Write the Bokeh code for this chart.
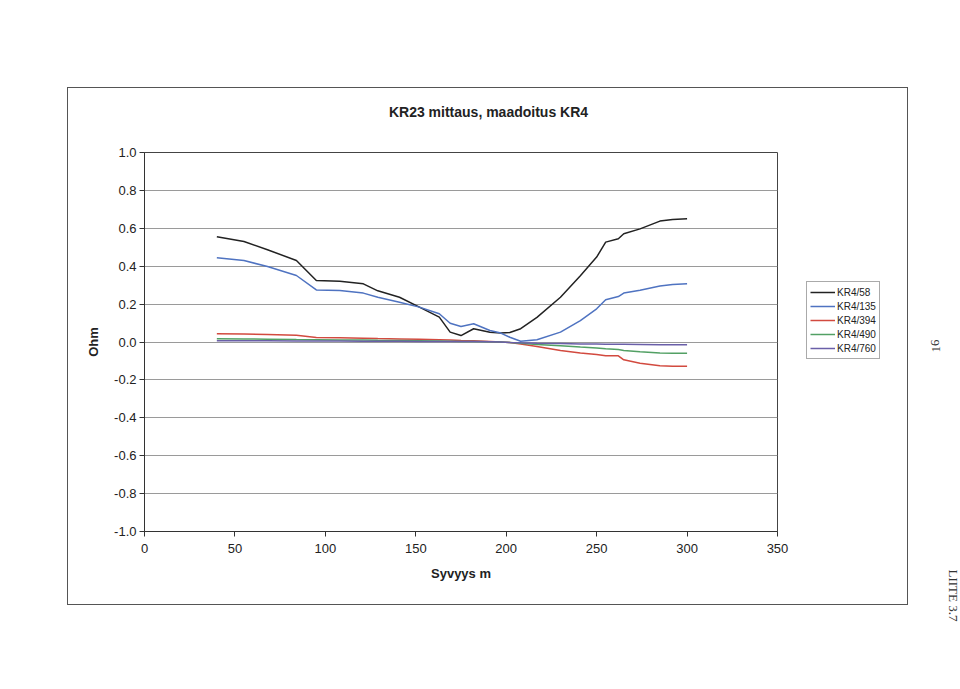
from bokeh.plotting import figure
from bokeh.layouts import row, column
from bokeh.models import (Legend, LegendItem, FixedTicker, Range1d, PrintfTickFormatter)
from bokeh.core.properties import value
from bokeh.embed import file_html
from bokeh.resources import INLINE

# ---- data ----
depth = [40, 55, 68, 84, 95, 108, 121, 129, 141, 152, 163, 169, 175, 182, 191,
         197, 202, 208, 217, 230, 241, 250, 255, 262, 265, 274, 285, 292, 300]

kr4_58 = [0.555, 0.53, 0.487, 0.43, 0.325, 0.32, 0.307, 0.27, 0.236, 0.184, 0.131,
          0.052, 0.034, 0.07, 0.052, 0.047, 0.05, 0.07, 0.13, 0.236, 0.35, 0.448,
          0.527, 0.545, 0.571, 0.597, 0.638, 0.646, 0.65]

kr4_135 = [0.444, 0.43, 0.398, 0.351, 0.275, 0.272, 0.258, 0.236, 0.21, 0.184, 0.149,
           0.099, 0.082, 0.096, 0.061, 0.047, 0.025, 0.004, 0.012, 0.052, 0.113,
           0.175, 0.223, 0.24, 0.258, 0.273, 0.295, 0.303, 0.307]

kr4_394 = [0.043, 0.042, 0.04, 0.035, 0.024, 0.022, 0.02, 0.018, 0.016, 0.014, 0.012,
           0.01, 0.008, 0.006, 0.003, 0.0, -0.003, -0.01, -0.024, -0.045, -0.058,
           -0.066, -0.073, -0.073, -0.094, -0.112, -0.125, -0.128, -0.128]

kr4_490 = [0.017, 0.016, 0.015, 0.013, 0.012, 0.011, 0.01, 0.009, 0.008, 0.007, 0.005,
           0.004, 0.003, 0.002, 0.001, 0.0, -0.002, -0.006, -0.013, -0.02, -0.027,
           -0.032, -0.036, -0.04, -0.045, -0.052, -0.058, -0.059, -0.059]

kr4_760 = [0.006, 0.006, 0.006, 0.005, 0.005, 0.005, 0.004, 0.004, 0.004, 0.003, 0.003,
           0.002, 0.002, 0.002, 0.001, 0.0, -0.002, -0.004, -0.006, -0.008, -0.01,
           -0.011, -0.012, -0.012, -0.012, -0.013, -0.015, -0.015, -0.015]

series_names = ["KR4/58", "KR4/135", "KR4/394", "KR4/490", "KR4/760"]
series_values = [kr4_58, kr4_135, kr4_394, kr4_490, kr4_760]
series_colors = ["#222222", "#4f73c1", "#d24a3f", "#52a064", "#6a5fa8"]

x_ticks = [0, 50, 100, 150, 200, 250, 300, 350]
y_ticks = [-1.0, -0.8, -0.6, -0.4, -0.2, 0, 0.2, 0.4, 0.6, 0.8, 1.0]

title_text = "KR23 mittaus, maadoitus KR4"
x_label = "Syvyys m"
y_label = "Ohm"
page_number = "16"
appendix_text = "LIITE   3.7"

FONT = "Liberation Sans"


def blank(fig):
    fig.axis.visible = False
    fig.grid.grid_line_color = None
    fig.outline_line_color = None
    fig.background_fill_color = "white"
    fig.border_fill_color = "white"


# ---------------- title strip (its frame is aligned with the chart frame) ----------------
tf = figure(width=729, height=56, output_backend="svg", toolbar_location=None,
            x_range=Range1d(0, 633), y_range=Range1d(0, 56), min_border=0)
blank(tf)
tf.text(x=[344], y=[33], text=[title_text], text_align="center",
        text_baseline="middle", text_font=value(FONT), text_font_size="14px",
        text_font_style="bold", text_color="#222222")

# ---------------- main chart ----------------
p = figure(width=729, height=460, output_backend="svg", toolbar_location=None,
           x_range=Range1d(0, 350), y_range=Range1d(-1, 1),
           min_border_left=76, min_border_right=20,
           min_border_top=8, min_border_bottom=73)
p.background_fill_color = "white"
p.border_fill_color = "white"
p.outline_line_color = "#444444"
p.outline_line_width = 1

p.xaxis.ticker = FixedTicker(ticks=x_ticks)
p.yaxis.ticker = FixedTicker(ticks=y_ticks)
p.yaxis.formatter = PrintfTickFormatter(format="%.1f")
for ax in (p.xaxis, p.yaxis):
    ax.axis_line_color = "#333333"
    ax.major_tick_line_color = "#333333"
    ax.minor_tick_line_color = None
    ax.major_tick_in = 0
    ax.major_tick_out = 5
    ax.major_label_text_font = FONT
    ax.major_label_text_font_size = "13px"
    ax.major_label_text_color = "#222222"
    ax.axis_label_text_font = FONT
    ax.axis_label_text_font_size = "13px"
    ax.axis_label_text_font_style = "bold"
    ax.axis_label_text_color = "#222222"
p.xaxis.major_label_standoff = 7
p.yaxis.major_label_standoff = 3
p.xaxis.axis_label = x_label
p.yaxis.axis_label = y_label
p.xaxis.axis_label_standoff = 10
p.yaxis.axis_label_standoff = 10

p.xgrid.grid_line_color = None
p.ygrid.grid_line_color = "#9a9a9a"
p.ygrid.grid_line_width = 1

for name, vals, col in zip(series_names, series_values, series_colors):
    p.line(depth, vals, line_color=col, line_width=1.5)

# ---------------- legend strip ----------------
lf = figure(width=110, height=516, output_backend="svg", toolbar_location=None,
            x_range=Range1d(0, 1), y_range=Range1d(0, 1), min_border=0)
blank(lf)
items = []
for name, col in zip(series_names, series_colors):
    r = lf.line(x=[5, 6], y=[5, 6], line_color=col, line_width=1.5)
    items.append(LegendItem(label=name, renderers=[r]))
legend = Legend(items=items, location=(9, 245),
                label_text_font=FONT, label_text_font_size="10px",
                label_text_color="#222222",
                glyph_width=25, glyph_height=14, label_height=14,
                label_standoff=2, spacing=0, padding=3, margin=0,
                border_line_color="#555555", border_line_width=1,
                background_fill_color="white", background_fill_alpha=1)
lf.add_layout(legend, "center")

chart = row(column(tf, p), lf, margin=(87, 0, 0, 67),
            styles={"border": "1px solid #555555"})

# ---------------- page annotations ----------------
side = figure(width=52, height=689, output_backend="svg", toolbar_location=None,
              x_range=Range1d(0, 52), y_range=Range1d(0, 689), min_border=0)
blank(side)
side.text(x=[27], y=[689 - 352], text=[page_number], angle=1.5708,
          text_align="left", text_baseline="middle",
          text_font=value("Liberation Serif"), text_font_size="13px",
          text_color="#333333")
side.text(x=[45], y=[689 - 569], text=[appendix_text], angle=-1.5708,
          text_align="left", text_baseline="middle",
          text_font=value("Liberation Serif"), text_font_size="13px",
          text_color="#333333")

layout = row(chart, side)
open("out.html", "w").write(file_html(layout, INLINE))
